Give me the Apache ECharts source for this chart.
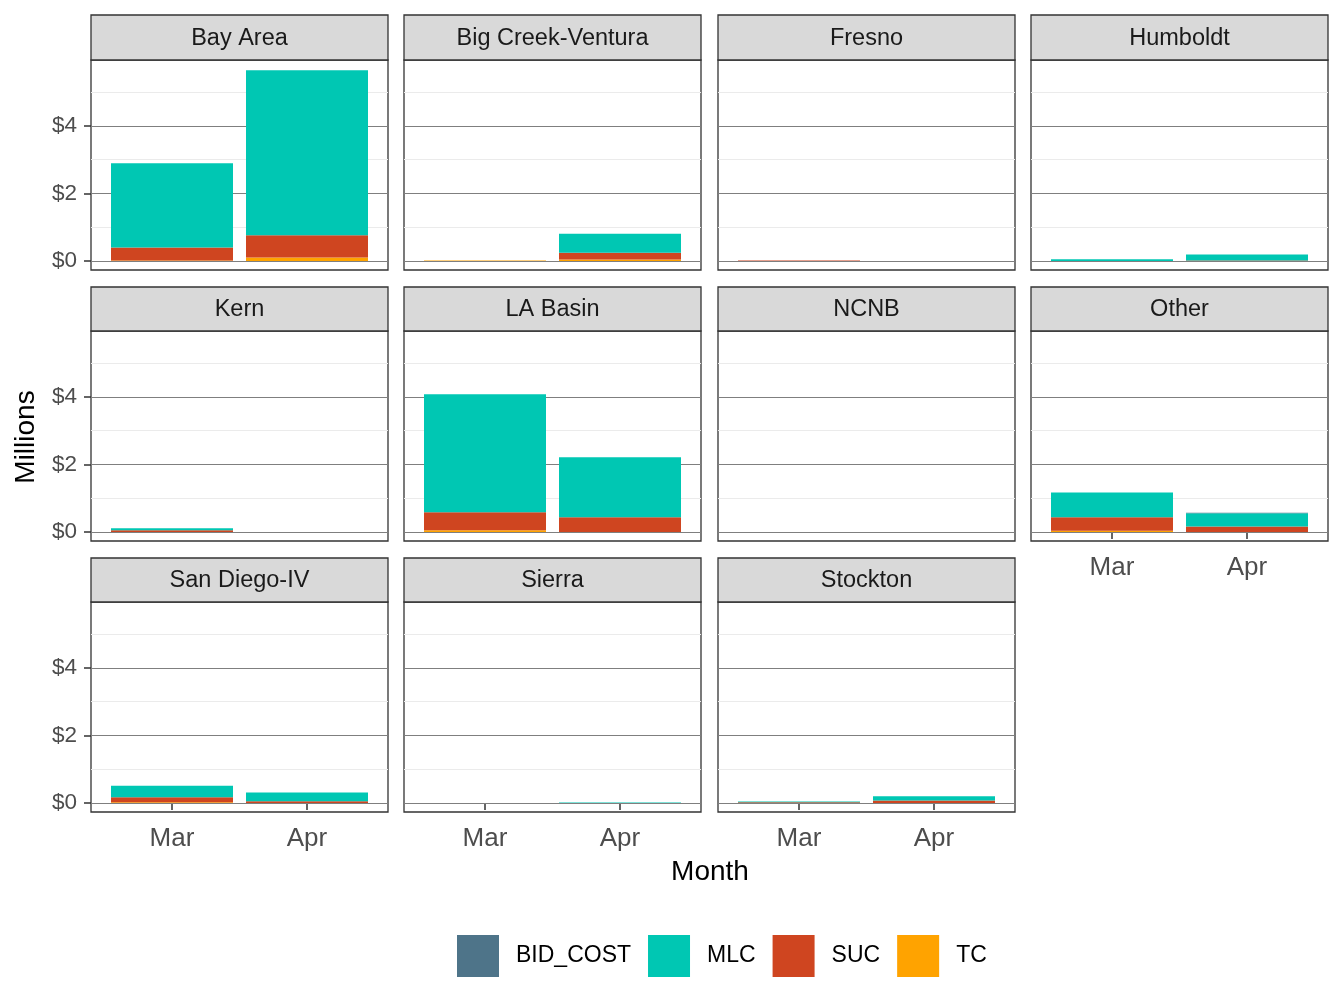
<!DOCTYPE html>
<html>
<head>
<meta charset="utf-8">
<script src="https://cdn.jsdelivr.net/npm/echarts@6/dist/echarts.min.js"></script>
<style>
  html, body { margin: 0; padding: 0; background: #fff; }
  #chart { width: 1344px; height: 1008px; }
</style>
</head>
<body>
<div id="chart"></div>
<script>
// data (millions of $), one [Mar, Apr] pair per region
const regions = ['Bay Area', 'Big Creek-Ventura', 'Fresno', 'Humboldt', 'Kern', 'LA Basin',
  'NCNB', 'Other', 'San Diego-IV', 'Sierra', 'Stockton']
const months = ['Mar', 'Apr']
const costTypes = ['BID_COST', 'MLC', 'SUC', 'TC']
const bidCost = [[0, 0], [0, 0], [0, 0], [0, 0], [0, 0], [0, 0], [0, 0], [0, 0.02], [0, 0], [0, 0], [0, 0]]
const mlc = [[2.49, 4.89], [0, 0.56], [0, 0], [0.045, 0.18], [0.06, 0], [3.50, 1.78], [0, 0], [0.74, 0.39], [0.34, 0.26], [0, 0.01], [0.02, 0.13]]
const suc = [[0.39, 0.66], [0, 0.20], [0.01, 0], [0, 0.01], [0.05, 0], [0.53, 0.43], [0, 0], [0.40, 0.16], [0.15, 0.05], [0, 0], [0.02, 0.07]]
const tc = [[0.01, 0.10], [0.01, 0.04], [0, 0], [0, 0], [0, 0], [0.05, 0], [0, 0], [0.03, 0], [0.02, 0], [0, 0], [0, 0]]
const yTicks = [0, 2, 4]
const yMinorTicks = [1, 3, 5]

const costData = { BID_COST: bidCost, MLC: mlc, SUC: suc, TC: tc }
const costColors = { BID_COST: '#4e7489', MLC: '#00c7b3', SUC: '#cf4520', TC: '#ffa300' }
// ggplot stacks the first level on top
const stackOrder = ['TC', 'SUC', 'MLC', 'BID_COST']

// layout
const colLeft = [91, 404, 718, 1031]
const rowTop = [60, 331, 602]
const stripTop = [15, 287, 558]
const panelW = 297
const panelH = 210
const bandInset = 13.5   // discrete axis expansion, so bars sit where ggplot puts them
const yMin = -0.27
const yMax = 5.95
const font = "'Liberation Sans', Arial, sans-serif"
const frame = '#333'

const chart = echarts.init(document.getElementById('chart'))

const grids = []
const xAxes = []
const yAxes = []
const series = []
const graphics = []

regions.forEach((region, i) => {
  const r = Math.floor(i / 4)
  const c = i % 4
  const showY = c === 0
  const showX = i >= 7

  // outer grid: panel frame, grid lines, y labels
  const outer = grids.length
  grids.push({
    left: colLeft[c], top: rowTop[r], width: panelW, height: panelH,
    show: true, borderColor: frame, borderWidth: 1.3, backgroundColor: '#fff'
  })
  xAxes.push({ gridIndex: outer, type: 'value', min: 0, max: 1, show: false })
  yAxes.push({
    gridIndex: outer, type: 'value', min: yMin, max: yMax, position: 'left', z: 3,
    axisLine: { show: false },
    axisTick: { show: showY, customValues: yTicks, length: 7, lineStyle: { color: frame, width: 1.5 } },
    axisLabel: {
      show: showY, customValues: yTicks, margin: 14,
      formatter: v => '$' + v,
      fontSize: 22.5, color: '#4d4d4d', fontFamily: font
    },
    splitLine: { show: true, lineStyle: { color: '#7f7f7f', width: 1 } }
  })
  yAxes.push({
    gridIndex: outer, type: 'value', min: yMin, max: yMax, position: 'left', z: 1,
    axisLine: { show: false },
    axisTick: { show: false, customValues: yMinorTicks },
    axisLabel: { show: false },
    splitLine: { show: true, lineStyle: { color: '#ebebeb', width: 1 } }
  })

  // inner grid: the bars on a category axis
  const inner = grids.length
  grids.push({
    left: colLeft[c] + bandInset, top: rowTop[r], width: panelW - 2 * bandInset, height: panelH
  })
  const xi = xAxes.length
  xAxes.push({
    gridIndex: inner, type: 'category', data: months,
    axisLine: { show: false },
    axisTick: { show: showX, alignWithLabel: true, length: 7, lineStyle: { color: frame, width: 1.5 } },
    axisLabel: { show: showX, margin: 14, fontSize: 26, color: '#4d4d4d', fontFamily: font }
  })
  const yi = yAxes.length
  yAxes.push({ gridIndex: inner, type: 'value', min: yMin, max: yMax, show: false, splitLine: { show: false } })

  stackOrder.forEach(type => {
    series.push({
      type: 'bar',
      name: type,
      xAxisIndex: xi,
      yAxisIndex: yi,
      stack: 'p' + i,
      barWidth: 122,
      silent: true,
      z: 5,
      itemStyle: { color: costColors[type] },
      data: costData[type][i]
    })
  })

  // facet strip
  graphics.push({
    type: 'rect',
    shape: { x: colLeft[c], y: stripTop[r], width: panelW, height: rowTop[r] - stripTop[r] },
    style: { fill: '#d9d9d9', stroke: frame, lineWidth: 1.3 }
  })
  graphics.push({
    type: 'text',
    x: colLeft[c] + panelW / 2,
    y: (stripTop[r] + rowTop[r]) / 2 + 1,
    style: {
      text: region, fill: '#1a1a1a', fontSize: 23.5, fontFamily: font,
      align: 'center', verticalAlign: 'middle'
    }
  })
})

graphics.push({
  type: 'text', x: 710, y: 872,
  style: { text: 'Month', fill: '#000', fontSize: 28, fontFamily: font, align: 'center', verticalAlign: 'middle' }
})
graphics.push({
  type: 'text', x: 26, y: 437, rotation: Math.PI / 2,
  style: { text: 'Millions', fill: '#000', fontSize: 28, fontFamily: font, align: 'center', verticalAlign: 'middle' }
})

const option = {
  animation: false,
  backgroundColor: '#fff',
  legend: {
    data: costTypes,
    left: 457,
    top: 935,
    padding: 0,
    icon: 'rect',
    itemWidth: 42,
    itemHeight: 42,
    itemGap: 17,
    selectedMode: false,
    textStyle: { fontSize: 23, color: '#000', fontFamily: font, padding: [3, 0, 0, 12] }
  },
  grid: grids,
  xAxis: xAxes,
  yAxis: yAxes,
  series: series,
  graphic: graphics
}

chart.setOption(option)
</script>
</body>
</html>
